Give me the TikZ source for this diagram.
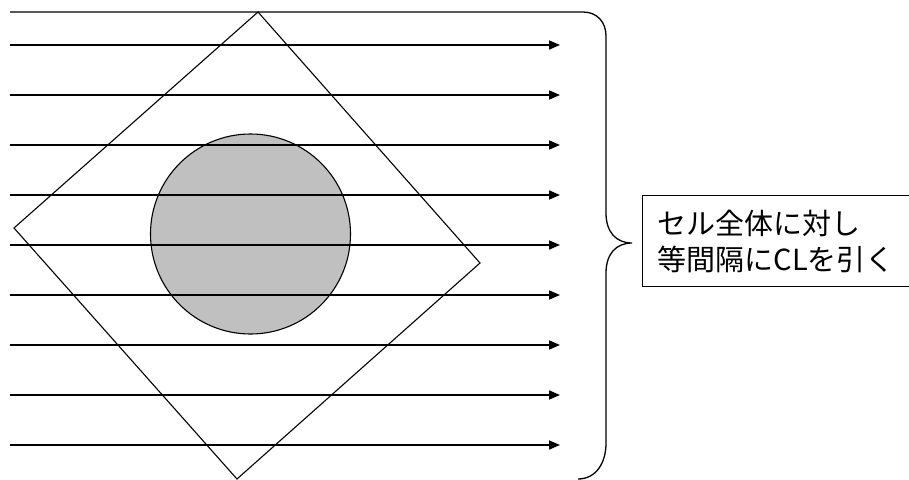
\documentclass[tikz,border=0pt]{standalone}
\usepackage{fontspec}
\newfontfamily\jpfont{Noto Sans CJK JP}
\usetikzlibrary{arrows.meta}
\begin{document}
\begin{tikzpicture}[x=1pt,y=-1pt,
  cl/.style={line width=1.6pt,-{Triangle[length=11pt,width=9pt]}},
  edge/.style={line width=1.1pt},
  label/.style={draw,line width=1pt,rectangle,anchor=north west,minimum height=91pt,
    text width=243pt,inner xsep=15pt,align=left,font=\jpfont\fontsize{29}{36}\selectfont}]
\useasboundingbox (0,0) rectangle (909,479);
% unit cell (rotated square)
\coordinate (dt) at (258,12);
\coordinate (dr) at (480,263);
\coordinate (db) at (237,479);
\coordinate (dl) at (14,228);
\draw[edge] (dt) -- (dr) -- (db) -- (dl) -- cycle;
% fuel pin
\node (pin) [circle,draw,line width=1.1pt,fill={rgb,255:red,192;green,192;blue,192},minimum size=200pt,inner sep=0pt] at (250.5,234) {};
% characteristic lines
\foreach \i/\y in {1/45,2/95,3/145,4/195,5/245,6/295,7/345,8/395,9/445}{
  \coordinate (s\i) at (10,\y);
  \coordinate (e\i) at (560,\y);
  \draw[cl] (s\i) -- (e\i);
}
% brace with top line
\coordinate (bt) at (10,12);
\coordinate (tip) at (632,243);
\coordinate (bb) at (578,479);
\draw[line width=1.3pt] (bt) -- (583,12) .. controls (597,12) and (606,22) .. (606,36)
  -- (606,213) .. controls (606,232) and (616,243) .. (tip)
  .. controls (616,243) and (606,254) .. (606,273)
  -- (606,443) .. controls (606,463) and (596,479) .. (bb);
% label
\node (lbl) [label] at (642,195) {セル全体に対し\\等間隔にCLを引く};
\end{tikzpicture}
\end{document}
